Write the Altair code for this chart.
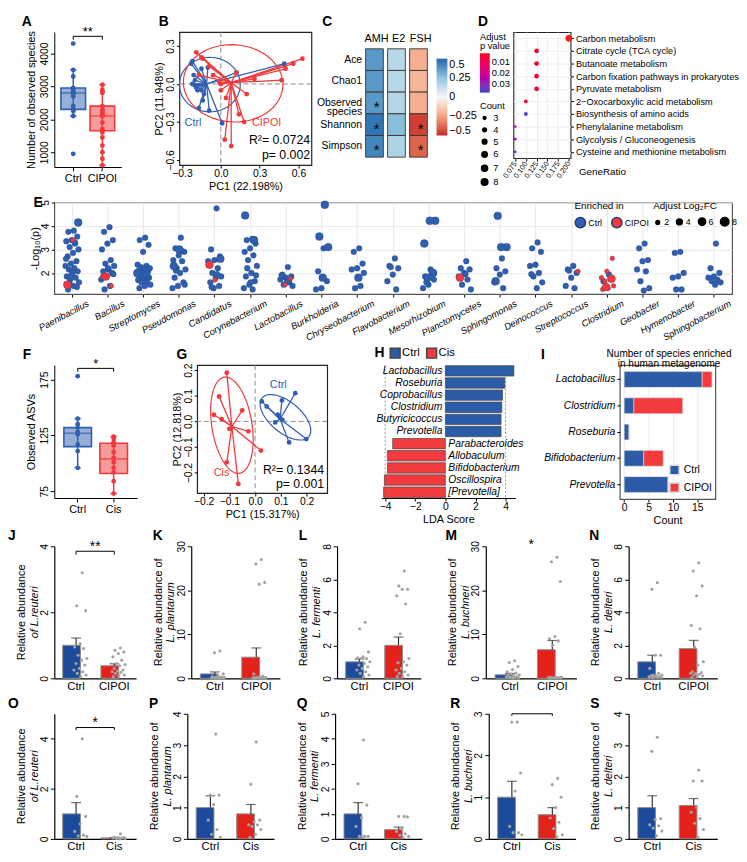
import altair as alt
import pandas as pd

FONT = "Liberation Sans"
BLUE = "#2f5fae"
RED = "#f2383a"
BBLUE = "#1c4b9c"
BRED = "#e3231b"
GRAY_PT = "#a3a3a3"

# ---------------- A ----------------
A_groups = ["Ctrl", "CIPOI"]
A_lo = [2100, 600]
A_q1 = [2300, 1650]
A_med = [2800, 2100]
A_q3 = [2950, 2400]
A_hi = [3500, 3050]
A_ctrl = [4300, 3500, 3300, 2950, 2900, 2850, 2800, 2800, 2780, 2700, 2400, 2300, 2300, 2280, 2250, 2100, 950]
A_cipoi = [3050, 2900, 2850, 2800, 2400, 2300, 2250, 2200, 2150, 2100, 2100, 1900, 1700,
           1650, 1600, 1450, 1200, 1000, 800, 600]

# ---------------- B ----------------
B_ctrl_x = [-0.22, -0.23, -0.21, -0.22, -0.20, -0.19, -0.17, -0.18, -0.15, -0.17, -0.14, -0.09, 0.01,
            -0.15, -0.10, -0.20, 0.49, 0.12, -0.13]
B_ctrl_y = [0.18, 0.16, 0.07, 0.0, -0.01, -0.03, -0.01, -0.05, -0.05, -0.19, -0.13, -0.21, -0.31,
            0.12, 0.13, 0.03, 0.16, 0.09, -0.08]
B_cip_x = [-0.19, -0.15, -0.14, -0.09, -0.17, -0.06, 0.0, 0.0, 0.04, 0.20, 0.26, 0.47, 0.50, 0.56,
           0.63, 0.14, 0.18, 0.03, 0.08, 0.12, -0.01]
B_cip_y = [0.25, 0.21, 0.20, 0.14, 0.07, 0.07, 0.0, -0.05, -0.11, -0.08, 0.04, 0.03, 0.12, 0.16,
           0.20, -0.24, -0.30, -0.44, -0.49, 0.09, 0.01]
B_cent = [(-0.11, 0.0), (0.08, 0.01)]
B_ell = [(-0.085, -0.005, 0.235, 0.215, 0), (0.095, 0.005, 0.385, 0.305, -4)]

# ---------------- C ----------------
C_rows = ["Ace", "Chao1", "Observed species", "Shannon", "Simpson"]
C_cols = ["AMH", "E2", "FSH"]
C_AMH = [0.37, 0.37, 0.37, 0.46, 0.42]
C_E2 = [0.16, 0.16, 0.17, 0.27, 0.18]
C_FSH = [-0.22, -0.2, -0.22, -0.46, -0.39]
C_star_AMH = [0, 0, 1, 1, 1]
C_star_E2 = [0, 0, 0, 0, 0]
C_star_FSH = [0, 0, 0, 1, 1]

# ---------------- D ----------------
D_path = ["Carbon metabolism", "Citrate cycle (TCA cycle)", "Butanoate metabolism",
          "Carbon fixation pathways in prokaryotes", "Pyruvate metabolism",
          "2\u2212Oxocarboxylic acid metabolism", "Biosynthesis of amino acids",
          "Phenylalanine metabolism", "Glycolysis / Gluconeogenesis",
          "Cysteine and methionine metabolism"]
D_ratio = [0.2, 0.125, 0.125, 0.125, 0.125, 0.1, 0.1, 0.075, 0.075, 0.075]
D_p = [0.002, 0.004, 0.004, 0.004, 0.004, 0.006, 0.037, 0.018, 0.026, 0.038]
D_count = [8, 5, 5, 5, 5, 4, 4, 3, 3, 3]

# ---------------- E ----------------
E_genera = ["Paenibacillus", "Bacillus", "Streptomyces", "Pseudomonas", "Candidatus",
            "Corynebacterium", "Lactobacillus", "Burkholderia", "Chryseobacterium",
            "Flavobacterium", "Mesorhizobium", "Planctomycetes", "Sphingomonas",
            "Deinococcus", "Streptococcus", "Clostridium", "Geobacter", "Hymenobacter",
            "Sphingobacterium"]
E_ctrl = {
    "Paenibacillus": [3.8, 3.75, 3.55, 3.4, 3.35, 3.25, 3.1, 3.0, 2.85, 2.7, 2.5, 2.4, 2.3, 2.2, 2.15,
                      2.07, 2.0, 1.85, 1.8, 1.72, 1.6, 1.45, 1.3, 1.4, 1.9, 2.6, 3.3, 1.55],
    "Bacillus": [3.95, 3.75, 3.4, 3.25, 3.0, 2.55, 2.4, 2.3, 2.15, 2.07, 2.0, 1.85, 1.72, 1.45, 1.3, 1.95, 2.2],
    "Streptomyces": [3.5, 3.4, 3.2, 2.9, 2.35, 2.3, 2.25, 2.2, 2.15, 2.1, 2.05, 2.0, 1.95, 1.9, 1.85, 1.8,
                     1.75, 1.7, 1.65, 1.6, 1.5, 1.45, 1.35, 2.1, 1.9],
    "Pseudomonas": [3.5, 3.05, 2.9, 2.75, 2.55, 2.5, 2.2, 2.15, 2.0, 1.8, 1.6, 1.45, 1.35, 2.95, 2.1, 1.5],
    "Candidatus": [4.75, 3.0, 2.7, 2.55, 2.35, 2.2, 2.0, 1.85, 1.8, 1.6, 1.45, 1.35, 2.5, 1.95, 1.4],
    "Corynebacterium": [3.45, 3.4, 3.25, 3.05, 2.9, 2.75, 2.55, 2.3, 2.0, 1.85, 1.65, 1.5, 1.35, 1.3, 2.2, 1.9, 1.6],
    "Lactobacillus": [2.25, 1.93, 1.85, 1.8, 1.72, 1.6, 1.5, 1.45, 1.65, 1.9],
    "Burkholderia": [3.05, 2.07, 1.65, 1.35, 1.3],
    "Chryseobacterium": [3.05, 2.9, 2.4, 2.2, 2.15, 1.45, 1.35, 2.0],
    "Flavobacterium": [2.62, 2.3, 2.2, 1.93, 1.65, 1.3, 2.25],
    "Mesorhizobium": [2.15, 1.85, 1.72, 1.5, 1.35, 2.05, 1.6],
    "Planctomycetes": [2.5, 2.2, 2.15, 2.0, 1.85, 1.72, 1.5, 1.3, 1.95],
    "Sphingomonas": [2.62, 2.2, 2.07, 1.93, 1.6, 1.35],
    "Deinococcus": [3.3, 3.05, 2.9, 2.35, 2.3, 2.0, 1.85, 1.6, 1.35, 1.95],
    "Streptococcus": [2.3, 2.15, 2.0, 1.8, 1.45, 1.35, 2.1],
    "Clostridium": [1.93, 1.65],
    "Geobacter": [3.25, 3.05, 2.55, 2.5, 2.15, 2.07, 1.65, 1.35, 1.25],
    "Hymenobacter": [2.9, 2.85, 2.0, 1.85, 1.8, 1.3, 1.3],
    "Sphingobacterium": [3.25, 2.2, 2.0, 1.85, 1.8, 1.72, 1.65, 1.6, 1.5],
}
E_ctrl_big = {
    "Paenibacillus": [4.15], "Streptomyces": [2.0, 1.95], "Pseudomonas": [3.0, 2.3],
    "Candidatus": [2.6], "Corynebacterium": [4.45, 3.4], "Burkholderia": [4.9, 3.55, 3.1, 1.8],
    "Chryseobacterium": [1.8], "Mesorhizobium": [4.22, 4.22, 3.25, 2.0, 1.8],
    "Sphingomonas": [4.43, 3.1, 3.1, 1.65],
}
E_cip = {
    "Paenibacillus": [3.4], "Bacillus": [1.85, 1.45], "Candidatus": [1.7],
    "Lactobacillus": [1.75, 1.5], "Streptococcus": [2.07],
    "Clostridium": [2.62, 2.07, 1.8, 1.72, 1.65, 1.45, 1.35, 1.3],
}
E_cip_big = {
    "Paenibacillus": [1.5], "Bacillus": [1.85], "Candidatus": [2.35],
    "Planctomycetes": [1.8], "Clostridium": [1.75, 1.4],
}

# ---------------- F ----------------
F_groups = ["Ctrl", "Cis"]
F_lo = [96, 73]
F_q1 = [115, 91]
F_med = [127, 104]
F_q3 = [132, 118]
F_hi = [140, 124]
F_ctrl = [178, 140, 135, 132, 128, 126, 117, 111, 96]
F_cis = [124, 122, 119, 116, 110, 105, 101, 96, 92, 84, 73]

# ---------------- G ----------------
G_ctrl_x = [0.156, 0.026, 0.045, 0.104, 0.088, 0.097, 0.078, 0.106, 0.132, 0.199]
G_ctrl_y = [0.11, 0.078, 0.058, 0.082, 0.026, 0.013, -0.004, 0.006, -0.082, -0.069]
G_cis_x = [-0.14, -0.11, -0.16, -0.13, -0.05, -0.10, -0.026, 0.023, -0.11, -0.065]
G_cis_y = [0.097, 0.19, 0.026, 0.009, 0.043, -0.029, -0.039, -0.114, -0.16, -0.244]
G_cent = [(0.097, 0.009), (-0.09, -0.02)]
G_ell = [(0.118, 0.016, 0.118, 0.06, -40), (-0.09, -0.015, 0.19, 0.078, 99)]

# ---------------- H ----------------
H_taxa = ["Lactobacillus", "Roseburia", "Coprobacillus", "Clostridium", "Butyricicoccus", "Prevotella",
          "Parabacteroides", "Allobaculum", "Bifidobacterium", "Oscillospira", "[Prevotella]"]
H_lda = [4.55, 3.95, 3.8, 3.75, 3.7, 3.7, -3.5, -3.85, -3.85, -4.05, -4.1]
H_grp = ["Ctrl"] * 6 + ["Cis"] * 5

# ---------------- I ----------------
I_genus = ["Lactobacillus", "Clostridium", "Roseburia", "Bifidobacterium", "Prevotella"]
I_ctrl = [16, 2, 1, 4, 9]
I_cipoi = [2, 10, 0, 4, 0]

# ---------------- J-S ----------------
J = dict(means=[1.0, 0.38], ses=[0.22, 0.06],
         a=[3.2, 2.2, 2.05, 1.05, 0.95, 0.9, 0.7, 0.6, 0.55, 0.45, 0.4, 0.3, 0.25, 0.2, 0.15, 0.1, 0.05],
         b=[0.92, 0.85, 0.8, 0.75, 0.65, 0.55, 0.45, 0.42, 0.38, 0.3, 0.25, 0.22, 0.2, 0.18, 0.15, 0.1, 0.08, 0.05])
K = dict(means=[1.0, 4.8], ses=[0.45, 2.1],
         a=[6.2, 5.8, 1.0, 0.6, 0.4, 0.3, 0.25, 0.2, 0.2, 0.15, 0.1, 0.1, 0.1, 0.05, 0.05, 0.05, 0.02],
         b=[27.0, 26.0, 21.8, 21.4, 1.0, 0.5, 0.3, 0.2, 0.2, 0.15, 0.1, 0.1, 0.1, 0.05, 0.05, 0.05, 0.02, 0.02])
L = dict(means=[1.0, 2.0], ses=[0.17, 0.5],
         a=[3.4, 3.0, 1.6, 1.3, 1.25, 1.2, 1.2, 1.0, 0.9, 0.8, 0.7, 0.6, 0.5, 0.4, 0.3, 0.2, 0.1],
         b=[6.5, 5.6, 5.4, 5.4, 5.0, 4.5, 2.7, 1.2, 1.0, 0.95, 0.8, 0.6, 0.5, 0.4, 0.3, 0.2, 0.1, 0.1])
M = dict(means=[0.8, 6.5], ses=[0.3, 2.1],
         a=[4.0, 3.6, 2.7, 2.0, 1.5, 1.2, 1.0, 0.8, 0.6, 0.5, 0.4, 0.3, 0.3, 0.2, 0.2, 0.1, 0.1],
         b=[27.5, 26.5, 22.0, 9.5, 9.0, 8.5, 7.5, 0.3, 0.2, 0.2, 0.2, 0.2, 0.15, 0.15, 0.1, 0.1, 0.1, 0.1])
N = dict(means=[1.0, 1.8], ses=[0.4, 0.5],
         a=[5.8, 5.4, 1.4, 1.4, 0.6, 0.3, 0.2, 0.2, 0.15, 0.15, 0.1, 0.1, 0.1, 0.05, 0.05, 0.05],
         b=[7.0, 6.5, 5.6, 5.0, 3.2, 3.0, 1.9, 1.0, 0.8, 0.4, 0.35, 0.3, 0.3, 0.25, 0.2, 0.15, 0.1, 0.05])
O = dict(means=[1.0, 0.04], ses=[0.45, 0.01],
         a=[4.0, 1.7, 0.9, 0.6, 0.3, 0.15, 0.12, 0.1],
         b=[0.2, 0.06, 0.05, 0.05, 0.04, 0.03, 0.02, 0.02, 0.01])
P = dict(means=[1.0, 0.8], ses=[0.38, 0.3],
         a=[3.35, 1.4, 1.4, 1.1, 0.6, 0.3, 0.15, 0.05],
         b=[3.1, 1.75, 0.6, 0.55, 0.45, 0.45, 0.4, 0.3, 0.15, 0.05])
Q = dict(means=[1.0, 0.37], ses=[0.45, 0.1],
         a=[3.95, 2.2, 1.35, 0.85, 0.5, 0.1, 0.1, 0.1, 0.08],
         b=[0.9, 0.9, 0.88, 0.4, 0.3, 0.2, 0.15, 0.1, 0.05])
R = dict(means=[1.0, 0.58], ses=[0.38, 0.17],
         a=[2.8, 2.8, 1.58, 1.15, 0.3, 0.15, 0.15, 0.1],
         b=[1.45, 1.3, 1.0, 0.75, 0.5, 0.4, 0.25, 0.1, 0.05])
S = dict(means=[1.0, 1.07], ses=[0.38, 0.22],
         a=[3.25, 2.8, 0.65, 0.62, 0.45, 0.42, 0.35, 0.25, 0.1],
         b=[2.2, 1.85, 1.85, 1.0, 0.85, 0.65, 0.5, 0.3, 0.05])

IND = dict(color="independent", size="independent", fill="independent", stroke="independent")
LF = 10.5   # tick-label font
TF = 11     # axis-title font


def txt(df_t, **kw):
    return alt.Chart(pd.DataFrame({"t": df_t})).mark_text(**kw)


def letter(t, x, y=-17):
    return txt([t], fontSize=14, fontWeight="bold", align="left", baseline="top", color="#000").encode(
        x=alt.value(x), y=alt.value(y), text="t:N")


def spacer(x, y=0):
    # invisible 1-px rule that fixes how far a panel reaches (layout only)
    return alt.Chart(pd.DataFrame({"t": [0]})).mark_rule(strokeOpacity=0, strokeWidth=0).encode(
        x=alt.value(x), y=alt.value(y), y2=alt.value(y + 1))


# ---------- box panel ----------
def box_panel(t, lx, groups, lo, q1, med, q3, hi, pa, pb, ydom, yticks, ytitle, br_y, star, w, h, bw):
    box = pd.DataFrame({"g": groups, "lo": lo, "q1": q1, "med": med, "q3": q3, "hi": hi})
    pts = pd.DataFrame({"g": [groups[0]] * len(pa) + [groups[1]] * len(pb), "v": pa + pb})
    xsc = alt.Scale(domain=groups, paddingInner=0.3, paddingOuter=0.3)
    X = alt.X("g:N", scale=xsc, sort=groups,
              axis=alt.Axis(title=None, labelAngle=0, labelFontSize=11, tickSize=4, labelPadding=2))
    ysc = alt.Scale(domain=ydom, nice=False, zero=False)

    def Y(f):
        return alt.Y(f, scale=ysc, axis=alt.Axis(title=ytitle, values=yticks, labelAngle=270, format="d",
                                                  titleFontSize=TF, labelFontSize=LF, titlePadding=3,
                                                  labelPadding=1, tickSize=4))
    cs = alt.Scale(domain=groups, range=[BLUE, RED])
    col = alt.Color("g:N", scale=cs, legend=None)
    whisk = alt.Chart(box).mark_rule(strokeWidth=1.5).encode(x=X, y=Y("lo:Q"), y2="hi:Q", color=col)
    caps_lo = alt.Chart(box).mark_tick(size=7, thickness=1.5).encode(x=X, y=Y("lo:Q"), color=col)
    caps_hi = alt.Chart(box).mark_tick(size=7, thickness=1.5).encode(x=X, y=Y("hi:Q"), color=col)
    boxes = alt.Chart(box).mark_bar(size=bw, fillOpacity=0.5, strokeWidth=1.6).encode(
        x=X, y=Y("q1:Q"), y2="q3:Q", fill=alt.Fill("g:N", scale=cs, legend=None),
        stroke=alt.Stroke("g:N", scale=cs, legend=None))
    meds = alt.Chart(box).mark_tick(size=bw, thickness=1.6).encode(x=X, y=Y("med:Q"), color=col)
    dots = alt.Chart(pts).mark_circle(size=24, opacity=1).encode(x=X, y=Y("v:Q"), color=col)
    d = (ydom[1] - ydom[0]) * 0.025
    brk = pd.DataFrame({"g": [groups[0], groups[0], groups[1], groups[1]],
                        "y": [br_y - d, br_y, br_y, br_y - d], "o": [0, 1, 2, 3]})
    bracket = alt.Chart(brk).mark_line(color="#000", strokeWidth=1).encode(x=X, y=Y("y:Q"), order="o:Q")
    st = txt([star], fontSize=13, baseline="bottom", dy=3).encode(
        x=alt.value(w / 2), y=alt.Y("yy:Q", scale=ysc), text="t:N").transform_calculate(yy=str(br_y))
    return alt.layer(whisk, caps_lo, caps_hi, boxes, meds, dots, bracket, st, letter(t, lx)).properties(
        width=w, height=h)


# ---------- PCA panel ----------
def pca_panel(t, lx, names, xa, ya, xb, yb, cents, ells, xdom, ydom, xticks, yticks, xtitle, ytitle,
              labels, stats, w, h, left):
    cols = [BLUE, RED]
    rows = []
    for i, (xs, ys) in enumerate([(xa, ya), (xb, yb)]):
        for x, y in zip(xs, ys):
            rows.append({"x": x, "y": y, "g": names[i], "cx": cents[i][0], "cy": cents[i][1]})
    df = pd.DataFrame(rows)
    xsc = alt.Scale(domain=xdom, nice=False, zero=False)
    ysc = alt.Scale(domain=ydom, nice=False, zero=False)
    xax = alt.Axis(title=xtitle, values=xticks, format=".1f", labelFontSize=LF, titleFontSize=TF,
                   domain=False, tickSize=3, titlePadding=1, labelPadding=1)
    yax = alt.Axis(title=ytitle, values=yticks, format=".1f", labelAngle=270, labelFontSize=LF,
                   titleFontSize=TF, domain=False, tickSize=3, titlePadding=1, labelPadding=1)
    col = alt.Color("g:N", scale=alt.Scale(domain=names, range=cols), legend=None)
    layers = []
    zx = alt.Chart(pd.DataFrame({"z": [0]})).mark_rule(strokeDash=[5, 3], color="#8c8c8c").encode(
        x=alt.X("z:Q", scale=xsc, axis=xax))
    zy = alt.Chart(pd.DataFrame({"z": [0]})).mark_rule(strokeDash=[5, 3], color="#8c8c8c").encode(
        y=alt.Y("z:Q", scale=ysc, axis=yax))
    layers += [zx, zy]
    for i, (cx, cy, a, b, th) in enumerate(ells):
        e = alt.Chart(alt.sequence(0, 73, 1, as_="i")).transform_calculate(
            tt="datum.i*PI/36", th=f"{th}*PI/180").transform_calculate(
            ex=f"{cx} + {a}*cos(datum.tt)*cos(datum.th) - {b}*sin(datum.tt)*sin(datum.th)",
            ey=f"{cy} + {a}*cos(datum.tt)*sin(datum.th) + {b}*sin(datum.tt)*cos(datum.th)"
        ).mark_line(color=cols[i], strokeWidth=1.2).encode(
            x=alt.X("ex:Q", scale=xsc, axis=xax), y=alt.Y("ey:Q", scale=ysc, axis=yax), order="i:Q")
        layers.append(e)
    spider = alt.Chart(df).mark_rule(strokeWidth=1.3).encode(
        x=alt.X("x:Q", scale=xsc, axis=xax), y=alt.Y("y:Q", scale=ysc, axis=yax),
        x2="cx:Q", y2="cy:Q", color=col)
    pts = alt.Chart(df).mark_circle(size=24, opacity=1).encode(
        x=alt.X("x:Q", scale=xsc, axis=xax), y=alt.Y("y:Q", scale=ysc, axis=yax), color=col)
    layers += [spider, pts]
    for (s, x, y, c, al) in labels:
        layers.append(alt.Chart(pd.DataFrame({"t": [s], "x": [x], "y": [y]})).mark_text(
            color=c, align=al, fontSize=11).encode(
            x=alt.X("x:Q", scale=xsc, axis=xax), y=alt.Y("y:Q", scale=ysc, axis=yax), text="t:N"))
    for (s, x, y) in stats:
        layers.append(alt.Chart(pd.DataFrame({"t": [s], "x": [x], "y": [y]})).mark_text(
            color="#000", align="right", fontSize=12.5).encode(
            x=alt.X("x:Q", scale=xsc, axis=xax), y=alt.Y("y:Q", scale=ysc, axis=yax), text="t:N"))
    layers += [letter(t, lx), spacer(-left)]
    return alt.layer(*layers).properties(width=w, height=h,
                                         view=alt.ViewBackground(stroke="#222", strokeWidth=1.2))


# ---------- bar panel ----------
def bar_panel(t, lx, groups, d, ymax, yticks, line1, line2, w, h, left, top=0, br_y=None, star=None,
              star_y=None, br_d=None):
    bars = pd.DataFrame({"g": groups, "m": d["means"], "se": d["ses"]})
    bars["top"] = bars["m"] + bars["se"]
    pts = pd.DataFrame({"g": [groups[0]] * len(d["a"]) + [groups[1]] * len(d["b"]), "v": d["a"] + d["b"]})
    xsc = alt.Scale(domain=groups, paddingInner=0.3, paddingOuter=0.22)
    X = alt.X("g:N", scale=xsc, sort=groups,
              axis=alt.Axis(title=None, labelAngle=0, ticks=False, labelFontSize=11.5, labelPadding=2,
                            domainWidth=1.2))
    ysc = alt.Scale(domain=[0, ymax], nice=False)

    def Y(f):
        return alt.Y(f, scale=ysc, axis=alt.Axis(title=None, values=yticks, labelAngle=270, tickSize=4,
                                                  labelFontSize=LF, domainWidth=1.2, labelPadding=1))
    col = alt.Color("g:N", scale=alt.Scale(domain=groups, range=[BBLUE, BRED]), legend=None)
    bar = alt.Chart(bars).mark_bar(stroke="#8c8c8c", strokeWidth=1).encode(x=X, y=Y("m:Q"), color=col)
    err = alt.Chart(bars).mark_rule(color="#333", strokeWidth=1.2).encode(x=X, y=Y("m:Q"), y2="top:Q")
    cap = alt.Chart(bars).mark_tick(color="#333", thickness=1.2, size=10).encode(x=X, y=Y("top:Q"))
    dots = alt.Chart(pts).transform_window(rn="row_number()", groupby=["g"]).transform_calculate(
        jit="((datum.rn*0.618034)%1)-0.5").mark_circle(size=10, color=GRAY_PT, opacity=1).encode(
        x=X, xOffset=alt.XOffset("jit:Q", scale=alt.Scale(domain=[-0.7, 0.7])), y=Y("v:Q"))
    t1 = txt([line1], angle=270, fontSize=11, baseline="middle").encode(
        x=alt.value(-33), y=alt.value(h / 2), text="t:N")
    t2 = txt([line2], angle=270, fontSize=11, baseline="middle", fontStyle="italic").encode(
        x=alt.value(-20), y=alt.value(h / 2), text="t:N")
    layers = [bar, err, cap, dots, t1, t2, letter(t, lx), spacer(-left)]
    if top:
        layers.append(spacer(0, -top))
    if br_y is not None:
        dd = br_d if br_d is not None else ymax * 0.02
        brk = pd.DataFrame({"g": [groups[0], groups[0], groups[1], groups[1]],
                            "y": [br_y - dd, br_y, br_y, br_y - dd], "o": [0, 1, 2, 3]})
        layers.append(alt.Chart(brk).mark_line(color="#000", strokeWidth=1).encode(
            x=X, y=Y("y:Q"), order="o:Q"))
    if star is not None:
        layers.append(txt([star], fontSize=14, baseline="bottom", dy=4).encode(
            x=alt.value(w / 2), y=alt.Y("yy:Q", scale=ysc), text="t:N").transform_calculate(yy=str(star_y)))
    return alt.layer(*layers).properties(width=w, height=h)


# ================= Build panels =================
pA = box_panel("A", -33, A_groups, A_lo, A_q1, A_med, A_q3, A_hi, A_ctrl, A_cipoi, [550, 4650],
               [1000, 2000, 3000, 4000], "Number of observed species", 4520, "**", 68, 137, 25)

pB = pca_panel("B", -21, ["Ctrl", "CIPOI"], B_ctrl_x, B_ctrl_y, B_cip_x, B_cip_y, B_cent, B_ell,
               [-0.32, 0.70], [-0.64, 0.41], [-0.3, 0.0, 0.3, 0.6], [-0.6, -0.3, 0.0, 0.3],
               "PC1 (22.198%)", "PC2 (11.948%)",
               [("Ctrl", -0.28, -0.31, BLUE, "left"), ("CIPOI", 0.24, -0.31, RED, "left")],
               [("R\u00b2= 0.0724", 0.69, -0.44), ("p= 0.002", 0.69, -0.565)], 134, 135, left=58)

# C heatmap (cells start below the column labels)
c_rows = []
for vals, stars, cname in [(C_AMH, C_star_AMH, "AMH"), (C_E2, C_star_E2, "E2"), (C_FSH, C_star_FSH, "FSH")]:
    for r, v, s in zip(C_rows, vals, stars):
        c_rows.append({"row": r, "col": cname, "val": v, "star": "*" if s else ""})
dfC = pd.DataFrame(c_rows)
cxs = alt.Scale(domain=C_cols, paddingInner=0, paddingOuter=0)
cx = alt.X("col:N", sort=C_cols, scale=cxs, axis=None)
cy = alt.Y("row:N", sort=C_rows, scale=alt.Scale(domain=C_rows, range=[17, 127], paddingInner=0, paddingOuter=0),
           axis=alt.Axis(title=None, ticks=False, domain=False, labelFontSize=10.6, labelPadding=4,
                         labelLineHeight=8.8,
                         labelExpr="datum.label == 'Observed species' ? ['Observed', 'species'] : datum.label"))
heat = alt.Chart(dfC).mark_rect(stroke="#333", strokeWidth=0.9).encode(
    x=cx, y=cy,
    color=alt.Color("val:Q", scale=alt.Scale(domain=[-0.5, -0.25, 0, 0.25, 0.5],
                                             range=["#c8232c", "#f3a482", "#f7f7f7", "#92c5de", "#2467ad"]),
                    legend=alt.Legend(title=None, values=[0.5, 0.25, 0, -0.25, -0.5], gradientLength=78,
                                      gradientThickness=11, labelFontSize=11, format=".2~f",
                                      direction="vertical", orient="none", legendX=72, legendY=27)))
stars = alt.Chart(dfC).mark_text(fontSize=15, baseline="middle", dy=4, color="#000").encode(
    x=cx, y=cy, text="star:N")
c_head = alt.Chart(pd.DataFrame({"col": C_cols})).mark_text(fontSize=11, baseline="middle").encode(
    x=cx, y=alt.value(7), text="col:N")
pC = alt.layer(heat, stars, c_head, letter("C", -44), spacer(-53)).properties(width=67, height=127)

# D dot plot (p-values negated so that small p sits at the top of the gradient)
dfD = pd.DataFrame({"path": D_path, "ratio": D_ratio, "p": D_p, "count": D_count})
d_pts = alt.Chart(dfD).transform_calculate(negp="-datum.p").mark_circle(opacity=1).encode(
    x=alt.X("ratio:Q", scale=alt.Scale(domain=[0.071, 0.204], nice=False, zero=False),
            axis=alt.Axis(values=[0.075, 0.1, 0.125, 0.15, 0.175, 0.2], format=".3f", labelAngle=-55,
                          labelFontSize=7.5, title="GeneRatio", titleFontSize=10, grid=True,
                          gridColor="#eeeeee", domain=False, tickSize=3, titleX=66, titleY=9,
                          titleAlign="left", titleBaseline="top", labelOverlap=False, labelPadding=1)),
    y=alt.Y("path:N", sort=D_path, axis=alt.Axis(orient="right", title=None, labelFontSize=9.3,
                                                 grid=True, gridColor="#eeeeee", domain=False, tickSize=3,
                                                 labelPadding=2, labelLimit=0)),
    color=alt.Color("negp:Q", scale=alt.Scale(range=["#3845c4", "#f51c1c"], interpolate="hcl"),
                    legend=alt.Legend(title=["Adjust", "p value"], orient="left", values=[-0.01, -0.02, -0.03],
                                      labelExpr="format(-datum.value, '.2f')",
                                      gradientLength=40, gradientThickness=10, labelFontSize=9.5,
                                      titleFontSize=9.5, offset=3, titleLineHeight=9, padding=0,
                                      titlePadding=3)),
    size=alt.Size("count:Q", scale=alt.Scale(domain=[3, 8], range=[8, 45]),
                  legend=alt.Legend(title="Count", orient="left", values=[3, 4, 5, 6, 7, 8], labelFontSize=9.5,
                                    titleFontSize=9.5, symbolFillColor="#000", symbolStrokeColor="#000",
                                    offset=3, rowPadding=1, padding=0, titlePadding=3)),
)
pD = alt.layer(d_pts, letter("D", -36), spacer(-36)).properties(
    width=58, height=128, view=alt.ViewBackground(stroke="#222", strokeWidth=1.1))

# E strip plot
e_rows = []
for g in E_genera:
    for v in E_ctrl.get(g, []):
        e_rows.append((g, v, "Ctrl", 4))
    for v in E_ctrl_big.get(g, []):
        e_rows.append((g, v, "Ctrl", 7))
    for v in E_cip.get(g, []):
        e_rows.append((g, v, "CIPOI", 3))
    for v in E_cip_big.get(g, []):
        e_rows.append((g, v, "CIPOI", 7))
dfE = pd.DataFrame(e_rows, columns=["genus", "v", "grp", "fc"])
e_pts = alt.Chart(dfE).transform_window(rn="row_number()", groupby=["genus"]).transform_calculate(
    jit="((datum.rn*0.618034)%1)-0.5").mark_circle(opacity=1, stroke="#1d3f77", strokeWidth=0.3).encode(
    x=alt.X("genus:N", sort=E_genera, scale=alt.Scale(paddingInner=0, paddingOuter=0),
            axis=alt.Axis(title=None, labelAngle=-28, labelFontStyle="italic", labelFontSize=9.5,
                          grid=True, gridColor="#e8e8e8", bandPosition=0.5, tickSize=3, domain=False,
                          labelPadding=1, labelOffset=14)),
    xOffset=alt.XOffset("jit:Q", scale=alt.Scale(domain=[-1.25, 1.25])),
    y=alt.Y("v:Q", scale=alt.Scale(domain=[1.1, 5.0], nice=False, zero=False),
            axis=alt.Axis(title="-Log\u2081\u2080(p)", values=[2, 3, 4, 5], labelAngle=270, grid=True,
                          gridColor="#e8e8e8", titleFontSize=TF, domain=False, tickSize=3,
                          labelFontSize=LF, titlePadding=0, labelPadding=1)),
    color=alt.Color("grp:N", scale=alt.Scale(domain=["Ctrl", "CIPOI"], range=[BLUE, RED]),
                    legend=alt.Legend(title="Enriched in", orient="none", legendX=528, legendY=-1,
                                      direction="horizontal", symbolSize=110, labelFontSize=9,
                                      titleFontSize=10, columnPadding=6, labelOffset=2, padding=0)),
    size=alt.Size("fc:Q", scale=alt.Scale(domain=[2, 8], range=[14, 75]),
                  legend=alt.Legend(title="Adjust Log\u2082FC", orient="none", legendX=608, legendY=-1,
                                    direction="horizontal", values=[2, 4, 6, 8], symbolFillColor="#000",
                                    symbolStrokeColor="#000", labelFontSize=9, titleFontSize=10,
                                    columnPadding=3, labelOffset=2, padding=0)),
)
pE = alt.layer(e_pts, letter("E", -21, -6)).properties(width=688, height=93,
                                                        view=alt.ViewBackground(stroke="#555", strokeWidth=1.2))

pF = box_panel("F", -32, F_groups, F_lo, F_q1, F_med, F_q3, F_hi, F_ctrl, F_cis, [69, 188],
               [75, 100, 125, 150, 175], "Observed ASVs", 185, "*", 84, 135, 28)

pG = pca_panel("G", -21, ["Ctrl", "Cis"], G_ctrl_x, G_ctrl_y, G_cis_x, G_cis_y, G_cent, G_ell,
               [-0.225, 0.28], [-0.28, 0.22], [-0.2, -0.1, 0.0, 0.1, 0.2], [-0.2, -0.1, 0.0, 0.1, 0.2],
               "PC1 (15.317%)", "PC2 (12.818%)",
               [("Ctrl", 0.09, 0.14, BLUE, "center"), ("Cis", -0.13, -0.2, RED, "center")],
               [("R\u00b2= 0.1344", 0.268, -0.19), ("p= 0.001", 0.268, -0.245)], 132, 130, left=60)

# H LDA
dfH = pd.DataFrame({"taxon": H_taxa, "lda": H_lda, "grp": H_grp})
hx = alt.Scale(domain=[-4.25, 4.65], nice=False, zero=False)
hxa = alt.Axis(values=[-4, -2, 0, 2, 4], title="LDA Score", titleFontSize=TF, labelFontSize=LF, domain=True,
               tickSize=3, grid=False, labelPadding=1, titlePadding=1)
hy = alt.Y("taxon:N", sort=H_taxa, axis=None, scale=alt.Scale(paddingInner=0.14, paddingOuter=0.05))
h_dash = alt.Chart(pd.DataFrame({"z": [-4, 4]})).mark_rule(strokeDash=[2, 2], color="#9a9a9a").encode(
    x=alt.X("z:Q", scale=hx, axis=hxa))
h_bar = alt.Chart(dfH).mark_bar(stroke="#444", strokeWidth=0.7).encode(
    x=alt.X("lda:Q", scale=hx, axis=hxa), y=hy,
    color=alt.Color("grp:N", scale=alt.Scale(domain=["Ctrl", "Cis"], range=["#2c5ba8", "#f33b3f"]),
                    legend=alt.Legend(title=None, orient="none", legendX=8, legendY=-18, direction="horizontal",
                                      symbolType="square", symbolSize=100, labelFontSize=11.5,
                                      columnPadding=4, symbolOffset=0, labelOffset=1, padding=0)))
h_lab_pos = alt.Chart(dfH).transform_filter("datum.lda > 0").transform_calculate(z="0").mark_text(
    align="right", dx=-3, fontStyle="italic", fontSize=10.5).encode(
    x=alt.X("z:Q", scale=hx, axis=hxa), y=hy, text="taxon:N")
h_lab_neg = alt.Chart(dfH).transform_filter("datum.lda < 0").transform_calculate(z="0").mark_text(
    align="left", dx=3, fontStyle="italic", fontSize=10.5).encode(
    x=alt.X("z:Q", scale=hx, axis=hxa), y=hy, text="taxon:N")
pH = alt.layer(h_dash, h_bar, h_lab_pos, h_lab_neg, letter("H", -7, -19), spacer(-53)).properties(
    width=136, height=135)

# I stacked bars
i_rows = []
for g, a, b in zip(I_genus, I_ctrl, I_cipoi):
    i_rows.append({"genus": g, "grp": "Ctrl", "n": a, "o": 0})
    i_rows.append({"genus": g, "grp": "CIPOI", "n": b, "o": 1})
dfI = pd.DataFrame(i_rows)
i_bar = alt.Chart(dfI).mark_bar(stroke="#dddddd", strokeWidth=0.6).encode(
    x=alt.X("n:Q", stack=True, scale=alt.Scale(domain=[-0.9, 18.7], nice=False, zero=False),
            axis=alt.Axis(values=[0, 5, 10, 15], title="Count", titleFontSize=TF, labelFontSize=LF,
                          grid=True, gridColor="#ededed", domain=False, tickSize=3, titlePadding=1,
                          labelPadding=1)),
    y=alt.Y("genus:N", sort=I_genus, scale=alt.Scale(paddingInner=0.4, paddingOuter=0.25),
            axis=alt.Axis(title=None, labelFontStyle="italic", labelFontSize=10.5, domain=False, tickSize=3,
                          labelPadding=2)),
    color=alt.Color("grp:N", scale=alt.Scale(domain=["Ctrl", "CIPOI"], range=["#2c5ba8", "#f33b3f"]),
                    legend=alt.Legend(title=None, orient="bottom-right", symbolType="square", symbolSize=90,
                                      labelFontSize=10.5, offset=3, rowPadding=1, padding=0)),
    order=alt.Order("o:Q"))
i_title = txt(["Number of species enriched\nin human metagenome"], fontSize=10.2, lineBreak="\n",
              baseline="bottom", align="center", lineHeight=10.5).encode(
    x=alt.value(50), y=alt.value(-6), text="t:N")
pI = alt.layer(i_bar, i_title, letter("I", -80), spacer(-96)).properties(
    width=97, height=136, view=alt.ViewBackground(stroke="#555", strokeWidth=1.2))

# J-N
g1 = ["Ctrl", "CIPOI"]
g2 = ["Ctrl", "Cis"]
BH = 134
pJ = bar_panel("J", -47, g1, J, 4, [0, 1, 2, 3, 4], "Relative abundance", "of L.reuteri", 83, BH, 47,
               br_y=3.85, star="**", star_y=3.9, br_d=0.1)
pK = bar_panel("K", -39, g1, K, 30, [0, 10, 20, 30], "Relative abundance of", "L. plantarum", 90, BH, 56)
pL = bar_panel("L", -39, g1, L, 8, [0, 2, 4, 6, 8], "Relative abundance of", "L. fermenti", 85, BH, 58)
pM = bar_panel("M", -41, g1, M, 30, [0, 10, 20, 30], "Relative abundacne of", "L. buchneri", 92, BH, 66,
               star="*", star_y=29.5)
pN = bar_panel("N", -40, g1, N, 8, [0, 2, 4, 6, 8], "Relative abundance of", "L. delteri", 90, BH, 53)
BH2 = 127
pO = bar_panel("O", -47, g2, O, 5, [0, 1, 2, 3, 4, 5], "Relative abundance", "of L.reuteri", 83, BH2, 47,
               top=19, br_y=4.45, star="*", star_y=4.5, br_d=0.1)
pP = bar_panel("P", -39, g2, P, 4, [0, 1, 2, 3, 4], "Relative abundance of", "L. plantarum", 88, BH2, 52)
pQ = bar_panel("Q", -39, g2, Q, 5, [0, 1, 2, 3, 4, 5], "Relative abundance of", "L. fermenti", 88, BH2, 62)
pR = bar_panel("R", -39, g2, R, 3, [0, 1, 2, 3], "Relative abundacne of", "L. buchneri", 88, BH2, 68,
               br_y=3.0, br_d=0.05)
pS = bar_panel("S", -39, g2, S, 4, [0, 1, 2, 3, 4], "Relative abundance of", "L. delteri", 90, BH2, 54)


def hc(*c):
    return alt.hconcat(*c, spacing=0).resolve_scale(**IND)


row1 = hc(pA, pB, pC, pD)
row2 = hc(pE)
row3 = hc(pF, pG, pH, pI)
row4 = hc(pJ, pK, pL, pM, pN)
row5 = hc(pO, pP, pQ, pR, pS)

chart = alt.vconcat(row1, row2, row3, row4, row5, spacing=3).resolve_scale(**IND).configure(
    font=FONT, padding=0
).configure_view(stroke=None).configure_axis(
    domainColor="#000", tickColor="#000", labelColor="#000", titleColor="#000",
    titleFontWeight="normal", grid=False
).configure_legend(labelColor="#000", titleColor="#000", titleFontWeight="normal").configure_text(
    color="#000")

chart.save("out.html", embed_options={"renderer": "svg", "actions": False})
